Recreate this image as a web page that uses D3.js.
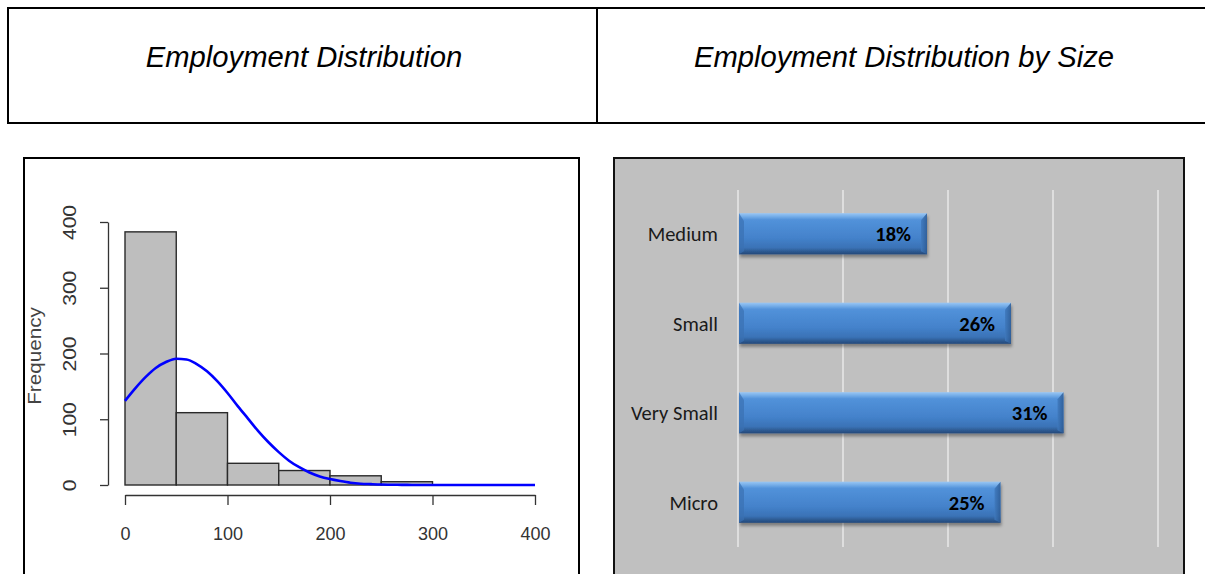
<!DOCTYPE html>
<html>
<head>
<meta charset="utf-8">
<script src="https://cdn.jsdelivr.net/npm/d3@7"></script>
<style>
  html, body { margin: 0; padding: 0; background: #fff; }
  svg { display: block; }
</style>
</head>
<body>
<svg id="chart" width="1205" height="574"></svg>
<script>
// ---------- data ----------
const headerTitles = ["Employment Distribution", "Employment Distribution by Size"];

// histogram bins (employment) and counts
const binStarts = [0, 50, 100, 150, 200, 250];
const binWidth = 50;
const binCounts = [385, 110, 33, 22, 14, 5];

// fitted normal curve
const curveX = [0, 10, 20, 30, 40, 50, 60, 70, 80, 90, 100, 110, 120, 130, 140, 150, 160, 170, 180, 190, 200, 210, 220, 230, 240, 250, 260, 270, 280, 300, 350, 400];
const curveY = [128, 147, 164, 178, 187, 192, 191, 184, 173, 158, 140, 120, 101, 82, 65, 50, 37, 27, 19, 13, 9, 6, 3.5, 2, 1.3, 0.7, 0.4, 0.2, 0.1, 0, 0, 0];

const histXTicks = [0, 100, 200, 300, 400];
const histYTicks = [0, 100, 200, 300, 400];
const histYLabel = "Frequency";

// bar chart
const sizeCategories = ["Medium", "Small", "Very Small", "Micro"];
const sizeValues = [18, 26, 31, 25];
const sizeGridTicks = [0, 10, 20, 30, 40];

// ---------- drawing ----------
const svg = d3.select("#chart");
const arial = "'Liberation Sans', Arial, sans-serif";
const calibri = "Carlito, Lato, 'Open Sans', sans-serif";

// header table
const tbl = svg.append("g");
tbl.append("line").attr("x1", 7).attr("x2", 1205).attr("y1", 8).attr("y2", 8).attr("stroke", "#000").attr("stroke-width", 2);
tbl.append("line").attr("x1", 7).attr("x2", 1205).attr("y1", 123).attr("y2", 123).attr("stroke", "#000").attr("stroke-width", 2);
tbl.append("line").attr("x1", 8).attr("x2", 8).attr("y1", 7).attr("y2", 124).attr("stroke", "#000").attr("stroke-width", 2);
tbl.append("line").attr("x1", 597).attr("x2", 597).attr("y1", 7).attr("y2", 124).attr("stroke", "#000").attr("stroke-width", 2);
const titleX = [304, 904];
tbl.selectAll("text.title").data(headerTitles).enter().append("text")
  .attr("class", "title")
  .attr("x", (d, i) => titleX[i]).attr("y", 67)
  .attr("text-anchor", "middle")
  .attr("font-family", arial)
  .attr("font-style", "italic")
  .attr("font-size", 29.2)
  .attr("fill", "#000")
  .text(d => d);

// ---------- left panel: histogram ----------
const left = svg.append("g");
left.append("rect").attr("x", 24).attr("y", 158).attr("width", 555).attr("height", 430)
  .attr("fill", "#fff").attr("stroke", "#000").attr("stroke-width", 2);

const hx = d3.scaleLinear().domain([0, 400]).range([125, 535]);
const hy = d3.scaleLinear().domain([0, 400]).range([485, 222]);

left.selectAll("rect.bin").data(binStarts).enter().append("rect")
  .attr("class", "bin")
  .attr("x", d => hx(d))
  .attr("width", d => hx(d + binWidth) - hx(d))
  .attr("y", (d, i) => hy(binCounts[i]))
  .attr("height", (d, i) => hy(0) - hy(binCounts[i]))
  .attr("fill", "#bebebe").attr("stroke", "#2a2a2a").attr("stroke-width", 1.4);

const curvePts = curveX.map((x, i) => [x, curveY[i]]);
left.append("path").datum(curvePts)
  .attr("d", d3.line().x(d => hx(d[0])).y(d => hy(d[1])).curve(d3.curveMonotoneX))
  .attr("fill", "none").attr("stroke", "#0000ff").attr("stroke-width", 2.6);

const yAxis = left.append("g").attr("transform", "translate(108,0)")
  .call(d3.axisLeft(hy).tickValues(histYTicks).tickSize(8).tickSizeOuter(0).tickFormat(d3.format("d")));
yAxis.select(".domain").attr("stroke", "#333").attr("stroke-width", 1.3);
yAxis.selectAll(".tick line").attr("stroke", "#333").attr("stroke-width", 1.3);
yAxis.selectAll(".tick text")
  .attr("x", null).attr("dy", null)
  .attr("transform", "translate(-32,0) rotate(-90) scale(1.17,1)")
  .attr("text-anchor", "middle")
  .attr("font-family", arial)
  .attr("font-size", 18).attr("fill", "#333");

const xAxis = left.append("g").attr("transform", "translate(0,495)")
  .call(d3.axisBottom(hx).tickValues(histXTicks).tickSize(10).tickSizeOuter(0).tickFormat(d3.format("d")));
xAxis.select(".domain").attr("stroke", "#333").attr("stroke-width", 1.3);
xAxis.selectAll(".tick line").attr("stroke", "#333").attr("stroke-width", 1.3);
xAxis.selectAll(".tick text")
  .attr("y", 38).attr("dy", "0.38em")
  .attr("font-family", arial)
  .attr("font-size", 18).attr("fill", "#333");

left.append("text")
  .attr("transform", "translate(41,356) rotate(-90) scale(1.15,1)")
  .attr("text-anchor", "middle")
  .attr("font-family", arial)
  .attr("font-size", 18).attr("fill", "#444")
  .text(histYLabel);

// ---------- right panel: bar chart ----------
const right = svg.append("g");
const defs = svg.append("defs");
const grad = defs.append("linearGradient").attr("id", "barGrad").attr("x1", 0).attr("y1", 0).attr("x2", 0).attr("y2", 1);
[["0%", "#9ac6f3"], ["7%", "#7ab1ea"], ["16%", "#5292da"], ["60%", "#4482cb"], ["84%", "#3a72b6"], ["92%", "#2e5c94"], ["100%", "#24487a"]]
  .forEach(s => grad.append("stop").attr("offset", s[0]).attr("stop-color", s[1]));
const gradEnd = defs.append("linearGradient").attr("id", "barEnd").attr("x1", 0).attr("y1", 0).attr("x2", 1).attr("y2", 0);
[["0%", "#3f79bd"], ["100%", "#2c5a93"]].forEach(s => gradEnd.append("stop").attr("offset", s[0]).attr("stop-color", s[1]));
const shadow = defs.append("filter").attr("id", "shadow").attr("x", "-5%").attr("y", "-20%").attr("width", "115%").attr("height", "160%");
shadow.append("feDropShadow").attr("dx", 1).attr("dy", 3).attr("stdDeviation", 1.8).attr("flood-color", "#000").attr("flood-opacity", 0.35);

right.append("rect").attr("x", 614).attr("y", 158).attr("width", 570).attr("height", 430)
  .attr("fill", "#c0c0c0").attr("stroke", "#111").attr("stroke-width", 2);

const bx = d3.scaleLinear().domain([0, 40]).range([738, 1158]);
const by = d3.scaleBand().domain(sizeCategories).range([189, 547]).paddingInner(0.54).paddingOuter(0.27);

right.selectAll("line.grid").data(sizeGridTicks).enter().append("line")
  .attr("class", "grid")
  .attr("x1", d => bx(d)).attr("x2", d => bx(d))
  .attr("y1", 190).attr("y2", 547)
  .attr("stroke", "#dedede").attr("stroke-width", 2);

const barG = right.selectAll("g.bar").data(sizeCategories).enter().append("g").attr("class", "bar");
barG.append("rect")
  .attr("x", bx(0) + 1)
  .attr("y", d => by(d))
  .attr("width", (d, i) => bx(sizeValues[i]) - bx(0) - 1)
  .attr("height", by.bandwidth())
  .attr("fill", "url(#barGrad)")
  .attr("filter", "url(#shadow)");
// bevel at right end
barG.append("path")
  .attr("d", (d, i) => {
    const x1 = bx(sizeValues[i]), y0 = by(d), h = by.bandwidth();
    return `M${x1 - 6},${y0 + 7} L${x1},${y0} L${x1},${y0 + h} L${x1 - 6},${y0 + h - 3} Z`;
  })
  .attr("fill", "url(#barEnd)").attr("opacity", 0.85);
// bevel at left end
barG.append("path")
  .attr("d", d => {
    const x0 = bx(0) + 1, y0 = by(d), h = by.bandwidth();
    return `M${x0},${y0} L${x0 + 5},${y0 + 8} L${x0 + 5},${y0 + h - 3} L${x0},${y0 + h} Z`;
  })
  .attr("fill", "#3a70b2").attr("opacity", 0.7);

// value labels
right.selectAll("text.val").data(sizeCategories).enter().append("text")
  .attr("class", "val")
  .attr("x", (d, i) => bx(sizeValues[i]) - 16)
  .attr("y", d => by(d) + by.bandwidth() / 2)
  .attr("dy", "0.36em")
  .attr("text-anchor", "end")
  .attr("font-family", calibri)
  .attr("font-weight", "bold")
  .attr("font-size", 20.5).attr("fill", "#000")
  .text((d, i) => sizeValues[i] + "%");

// category labels
right.selectAll("text.cat").data(sizeCategories).enter().append("text")
  .attr("class", "cat")
  .attr("x", 718)
  .attr("y", d => by(d) + by.bandwidth() / 2)
  .attr("dy", "0.36em")
  .attr("text-anchor", "end")
  .attr("font-family", calibri)
  .attr("font-size", 20.5).attr("fill", "#1a1a1a")
  .text(d => d);
</script>
</body>
</html>
